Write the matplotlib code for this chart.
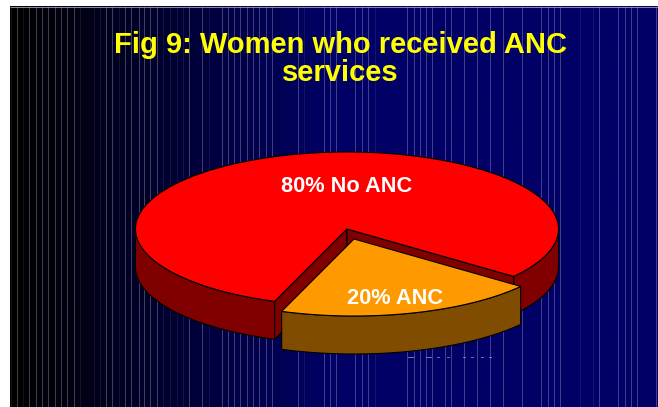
import numpy as np
import matplotlib
matplotlib.use("Agg")
import matplotlib.pyplot as plt
from matplotlib.colors import LinearSegmentedColormap

labels = ["80% No ANC", "20% ANC"]
values = [80, 20]

bright_lines = [16.5, 29, 36, 42, 48, 55, 61, 67, 74, 106, 112, 125, 131, 139, 144, 150, 157, 189, 202,
                222, 228, 234, 240, 247, 253, 259, 266, 272, 298, 324, 330, 336, 355, 362, 368, 407,
                414, 420, 426, 432, 445, 451, 464, 477, 490, 503, 522, 541, 548, 554, 560, 599, 618,
                625, 631, 637, 656]
faint_lines = [10.5, 23, 80, 94, 100, 119, 163, 170, 177, 183, 209, 304, 375, 580, 593]
remnant_dashes = [(408, 413), (426, 431), (437, 439), (447, 449), (463, 465), (471, 473), (481, 483), (489, 491)]

plt.rcParams["font.family"] = ["Liberation Sans", "DejaVu Sans"]

fig = plt.figure(figsize=(6.58, 4.07), dpi=100, facecolor="white")
ax = fig.add_axes([0, 0, 1, 1])
ax.set_xlim(0, 658)
ax.set_ylim(407, 0)
ax.axis("off")

# background
cmap = LinearSegmentedColormap.from_list("bg", ["#000000", "#000066", "#000066"])
ax.imshow(np.linspace(0, 1, 400).reshape(1, -1), extent=(10, 658, 407, 6), cmap=cmap, aspect="auto", zorder=0)
ax.set_xlim(0, 658)
ax.set_ylim(407, 0)
ax.vlines(bright_lines, 6, 407, color="white", alpha=0.25, lw=0.72, zorder=1)
ax.vlines(faint_lines, 6, 407, color="white", alpha=0.08, lw=0.72, zorder=1)
ax.hlines(6.5, 10, 658, color="#8a8a9a", lw=0.7, zorder=1)
for d in remnant_dashes:
    ax.plot(d, [357, 357], color="#c8c8e0", lw=0.6, alpha=0.7, zorder=1)

# pie geometry
rx = 211.5
ry = 77
depth = 38
cx, cy = 347, 229
ex, ey = 354, 239
start = 250
sweep = 360 * values[1] / sum(values)
a1 = start
a2 = start + sweep


def pt(c, a, r=(rx, ry)):
    t = np.radians(a)
    return c[0] + r[0] * np.cos(t), c[1] - r[1] * np.sin(t)


def arc(c, a, b):
    t = np.radians(np.linspace(a, b, 200))
    return c[0] + rx * np.cos(t), c[1] - ry * np.sin(t)


def side(c, a, b, color, z):
    x, y = arc(c, a, b)
    # y grows downwards, so only the front half of the rim shows
    t = (np.linspace(a, b, 200) % 360) > 180
    x, y = x[t], y[t]
    if len(x) == 0:
        return
    ax.fill(np.r_[x, x[::-1]], np.r_[y, y[::-1] + depth], facecolor=color, edgecolor="black", lw=0.8, zorder=z, joinstyle="round")


def wedge_top(c, a, b, color, z):
    x, y = arc(c, a, b)
    ax.fill(np.r_[c[0], x], np.r_[c[1], y], facecolor=color, edgecolor="black", lw=0.8, zorder=z, joinstyle="round")


def wall(c, a, color, z):
    x, y = pt(c, a, (rx, ry))
    ax.fill([c[0], x, x, c[0]], [c[1], y, y + depth, c[1] + depth], facecolor=color, edgecolor="black", lw=0.8, zorder=z)


# red piece
side((cx, cy), a2, 360, "#800000", 3)
side((cx, cy), 180, a1, "#800000", 3)
wall((cx, cy), a1, "#800000", 4)
wall((cx, cy), a2, "#800000", 4)
wedge_top((cx, cy), a2, a1 + 360, "#FF0000", 5)

# orange piece, pulled out
side((ex, ey), a1, a2, "#804C00", 6)
wedge_top((ex, ey), a1, a2, "#FF9900", 7)

ax.text(340, 59, "Fig 9: Women who received ANC\nservices", color="#FFFF00", fontsize=21, fontweight="bold",
        ha="center", va="center", linespacing=1.03, zorder=8)
ax.text(347, 186.5, labels[0], color="white", fontsize=15.7, fontweight="bold", ha="center", va="center", zorder=8)
ax.text(395, 298, labels[1], color="white", fontsize=15.7, fontweight="bold", ha="center", va="center", zorder=8)

fig.savefig("out.png", dpi=100)
